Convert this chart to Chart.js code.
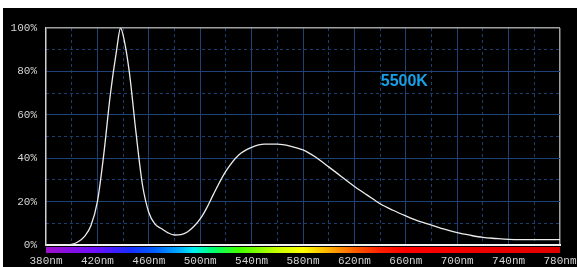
<!DOCTYPE html>
<html lang="en">
<head>
    <meta charset="UTF-8">
    <title>5500K Spectrum</title>
    <script src="https://cdn.jsdelivr.net/npm/chart.js"></script>
    <style>
        body { margin: 0; background-color: white; }
        #spectrum { display: block; }
    </style>
</head>
<body>
    <canvas id="spectrum" width="577" height="267"></canvas>

    <script>
        // wavelength (nm) and relative intensity (%)
        const wavelengths = [380, 390, 400, 405, 410, 415, 420, 425, 430, 435, 438, 441, 445, 450, 455, 460, 465, 470, 475, 480,
                             485, 490, 495, 500, 505, 510, 520, 530, 540, 550, 560, 570, 580, 590, 600, 610, 620, 630, 640, 650,
                             660, 670, 680, 690, 700, 710, 720, 730, 740, 750, 760, 770, 780];
        const intensity = [0, 0, 0.3, 1.5, 4, 9, 20, 42, 69, 90, 100, 94, 79, 52, 28, 15, 9.5, 7.5, 5.6, 4.6,
                           4.8, 6, 8.5, 12, 17, 23, 34, 41.5, 45, 46.5, 46.5, 45.6, 43.8, 40.4, 36, 31.5, 27, 23, 19, 16,
                           13.4, 11, 9.2, 7.3, 5.7, 4.5, 3.5, 3, 2.6, 2.5, 2.5, 2.5, 2.5];
        const xTicks = [380, 420, 460, 500, 540, 580, 620, 660, 700, 740, 780];
        const yTicks = [0, 20, 40, 60, 80, 100];
        const colorTempLabel = '5500K';

        const gridSolid = '#1e4278';
        const gridDashed = '#1c3f72';
        const frameColor = '#a0a0a0';
        const tickFont = { family: 'Liberation Mono', size: 11 };
        const tickColor = '#d4d4d4';

        // rainbow strip under the x axis
        const spectrumStops = [
            [380, '#a010c8'], [420, '#6a10ff'], [445, '#1a2cff'], [465, '#0060ff'],
            [485, '#00b4ff'], [495, '#00f0f0'], [510, '#00ff70'], [530, '#40ff00'],
            [560, '#c8ff00'], [580, '#ffff00'], [600, '#ffb000'], [620, '#ff6000'],
            [640, '#ff2000'], [660, '#ff0000'], [780, '#e00000']
        ];

        const chartBackground = {
            id: 'chartBackground',
            beforeDraw(chart) {
                const ctx = chart.ctx;
                ctx.save();
                ctx.fillStyle = '#000000';
                ctx.fillRect(3, 8, chart.width - 3, chart.height - 8);
                ctx.restore();
            }
        };

        const spectrumBar = {
            id: 'spectrumBar',
            afterDraw(chart) {
                const ctx = chart.ctx;
                const area = chart.chartArea;
                const xs = chart.scales.x;
                const grad = ctx.createLinearGradient(area.left, 0, area.right, 0);
                spectrumStops.forEach(([nm, c]) => {
                    grad.addColorStop((xs.getPixelForValue(nm) - area.left) / (area.right - area.left), c);
                });
                ctx.save();
                ctx.fillStyle = grad;
                ctx.fillRect(area.left, area.bottom + 2, area.right - area.left, 6);

                // colour temperature label
                ctx.fillStyle = '#18a0e6';
                ctx.font = 'bold 16px "Liberation Sans", Arial, sans-serif';
                ctx.textBaseline = 'middle';
                ctx.fillText(colorTempLabel, xs.getPixelForValue(640.5), chart.scales.y.getPixelForValue(75.5));
                ctx.restore();
            }
        };

        const ctx = document.getElementById('spectrum').getContext('2d');
        new Chart(ctx, {
            type: 'line',
            data: {
                datasets: [{
                    data: wavelengths.map((w, i) => ({ x: w, y: intensity[i] })),
                    borderColor: '#ececec',
                    borderWidth: 1.3,
                    pointRadius: 0,
                    fill: false,
                    cubicInterpolationMode: 'monotone'
                }]
            },
            options: {
                responsive: false,
                animation: false,
                layout: { padding: { left: 10, top: 28, right: 17, bottom: 0 } },
                plugins: { legend: { display: false }, tooltip: { enabled: false } },
                scales: {
                    x2: {
                        type: 'linear',
                        position: 'top',
                        min: 380,
                        max: 780,
                        afterFit: s => { s.height = 0; s.paddingLeft = 0; s.paddingRight = 0; },
                        ticks: { display: false, stepSize: 20 },
                        grid: {
                            drawTicks: false,
                            color: c => (c.tick && (c.tick.value - 380) % 40 === 20) ? gridDashed : 'transparent'
                        },
                        border: { display: false, dash: [3, 3] }
                    },
                    y2: {
                        position: 'right',
                        min: 0,
                        max: 100,
                        afterFit: s => { s.width = 0; s.paddingTop = 0; s.paddingBottom = 0; },
                        ticks: { display: false, stepSize: 10 },
                        grid: {
                            drawTicks: false,
                            color: c => (c.tick && c.tick.value % 20 === 10) ? gridDashed : 'transparent'
                        },
                        border: { display: false, dash: [3, 3] }
                    },
                    x: {
                        type: 'linear',
                        min: 380,
                        max: 780,
                        afterBuildTicks: s => { s.ticks = xTicks.map(v => ({ value: v })); },
                        afterFit: s => { s.height = 22; s.paddingLeft = 0; s.paddingRight = 0; },
                        ticks: { callback: v => v + 'nm', font: tickFont, color: tickColor, padding: 9, maxRotation: 0 },
                        grid: {
                            drawTicks: false,
                            lineWidth: c => (c.tick && c.tick.value === 780) ? 1.5 : 1,
                            color: c => {
                                if (!c.tick) return gridSolid;
                                if (c.tick.value === 380) return 'transparent';
                                return c.tick.value === 780 ? frameColor : gridSolid;
                            }
                        },
                        border: { display: true, color: '#f2f2f2', width: 2 }
                    },
                    y: {
                        min: 0,
                        max: 100,
                        afterBuildTicks: s => { s.ticks = yTicks.map(v => ({ value: v })); },
                        afterFit: s => { s.width = 36; s.paddingTop = 0; s.paddingBottom = 0; },
                        ticks: { callback: v => v + '%', font: tickFont, color: tickColor, padding: 9 },
                        grid: {
                            drawTicks: false,
                            lineWidth: c => (c.tick && c.tick.value === 100) ? 1.5 : 1,
                            color: c => {
                                if (!c.tick) return gridSolid;
                                if (c.tick.value === 0) return 'transparent';
                                return c.tick.value === 100 ? frameColor : gridSolid;
                            }
                        },
                        border: { display: true, color: '#d0d0d0', width: 1.5 }
                    }
                }
            },
            plugins: [chartBackground, spectrumBar]
        });
    </script>
</body>
</html>
